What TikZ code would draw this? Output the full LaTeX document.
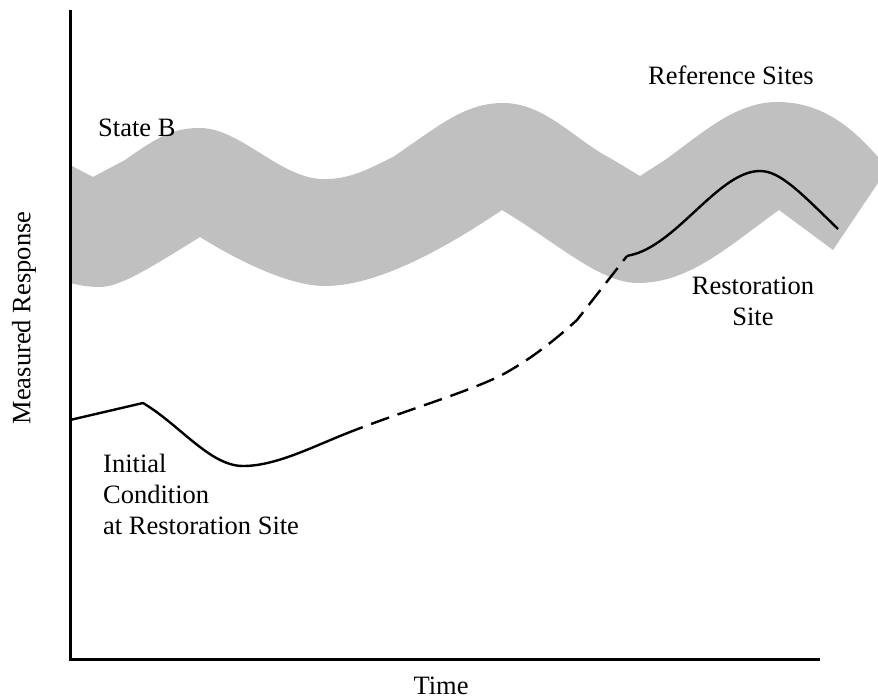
\documentclass[tikz,border=0pt]{standalone}
\usepackage{fontspec}
\setmainfont{Liberation Serif}
\usepackage{tikz}
\usetikzlibrary{positioning}
\definecolor{bandgray}{RGB}{192,192,192}

\begin{document}
\begin{tikzpicture}[x=1pt, y=-1pt,
    lbl/.style={inner sep=0pt, font=\fontsize{26.5}{31}\selectfont},
    axisline/.style={line width=3pt, black},
    siteline/.style={line width=2.4pt, black, line join=round}]
  \useasboundingbox (0,0) rectangle (878,700);
  % Band of reference sites (top edge left to right, bottom edge back)
  \fill[bandgray] (70,165) -- (93,177) -- (125,160)
    .. controls (160,135) and (175,128) .. (200,128)
    .. controls (240,128) and (280,178) .. (322,179)
    .. controls (350,180) and (370,168) .. (393,157)
    .. controls (440,125) and (465,103) .. (503,103)
    .. controls (545,103) and (575,140) .. (610,158)
    -- (640,176) -- (665,160)
    .. controls (700,135) and (735,102) .. (777,102)
    .. controls (820,102) and (850,125) .. (878,157)
    -- (878,183) -- (833,250) -- (779,210)
    .. controls (730,245) and (690,283) .. (638,283)
    .. controls (600,283) and (560,245) .. (502,210)
    .. controls (450,245) and (380,286) .. (325,286)
    .. controls (290,286) and (240,262) .. (200,237)
    .. controls (150,268) and (120,287) .. (100,287)
    .. controls (88,287) and (78,285) .. (70,283) -- cycle;
  % Axes
  \draw[axisline, line cap=rect] (70,12) -- (70,659) -- (818,659);
  % Restoration site trajectory
  \draw[siteline] (70,420) -- (143,403)
    .. controls (180,425) and (210,466) .. (243,466)
    .. controls (275,466) and (310,448) .. (345,434);
  \draw[siteline, dash pattern=on 19pt off 9pt] (345,434)
    .. controls (400,412) and (460,395) .. (500,376)
    .. controls (530,360) and (555,340) .. (577,320) -- (627,256);
  \draw[siteline] (627,256) -- (635,254)
    .. controls (680,240) and (720,171) .. (760,171)
    .. controls (780,171) and (800,192) .. (838,229);
  % Labels
  \node[lbl, anchor=base west] (stateb) at (98,137) {State B};
  \node[lbl, anchor=base west] (refsites) at (648,85) {Reference Sites};
  \node[lbl, anchor=north, align=center] (restsite) at (753,277) {Restoration\\Site};
  \node[lbl, anchor=north west, align=left] (initcond) at (103,454) {Initial\\Condition\\at Restoration Site};
  \node[lbl, anchor=base] (timelbl) at (441,694) {Time};
  \node[lbl, rotate=90] (resplbl) at (24,318) {Measured Response};
\end{tikzpicture}
\end{document}
